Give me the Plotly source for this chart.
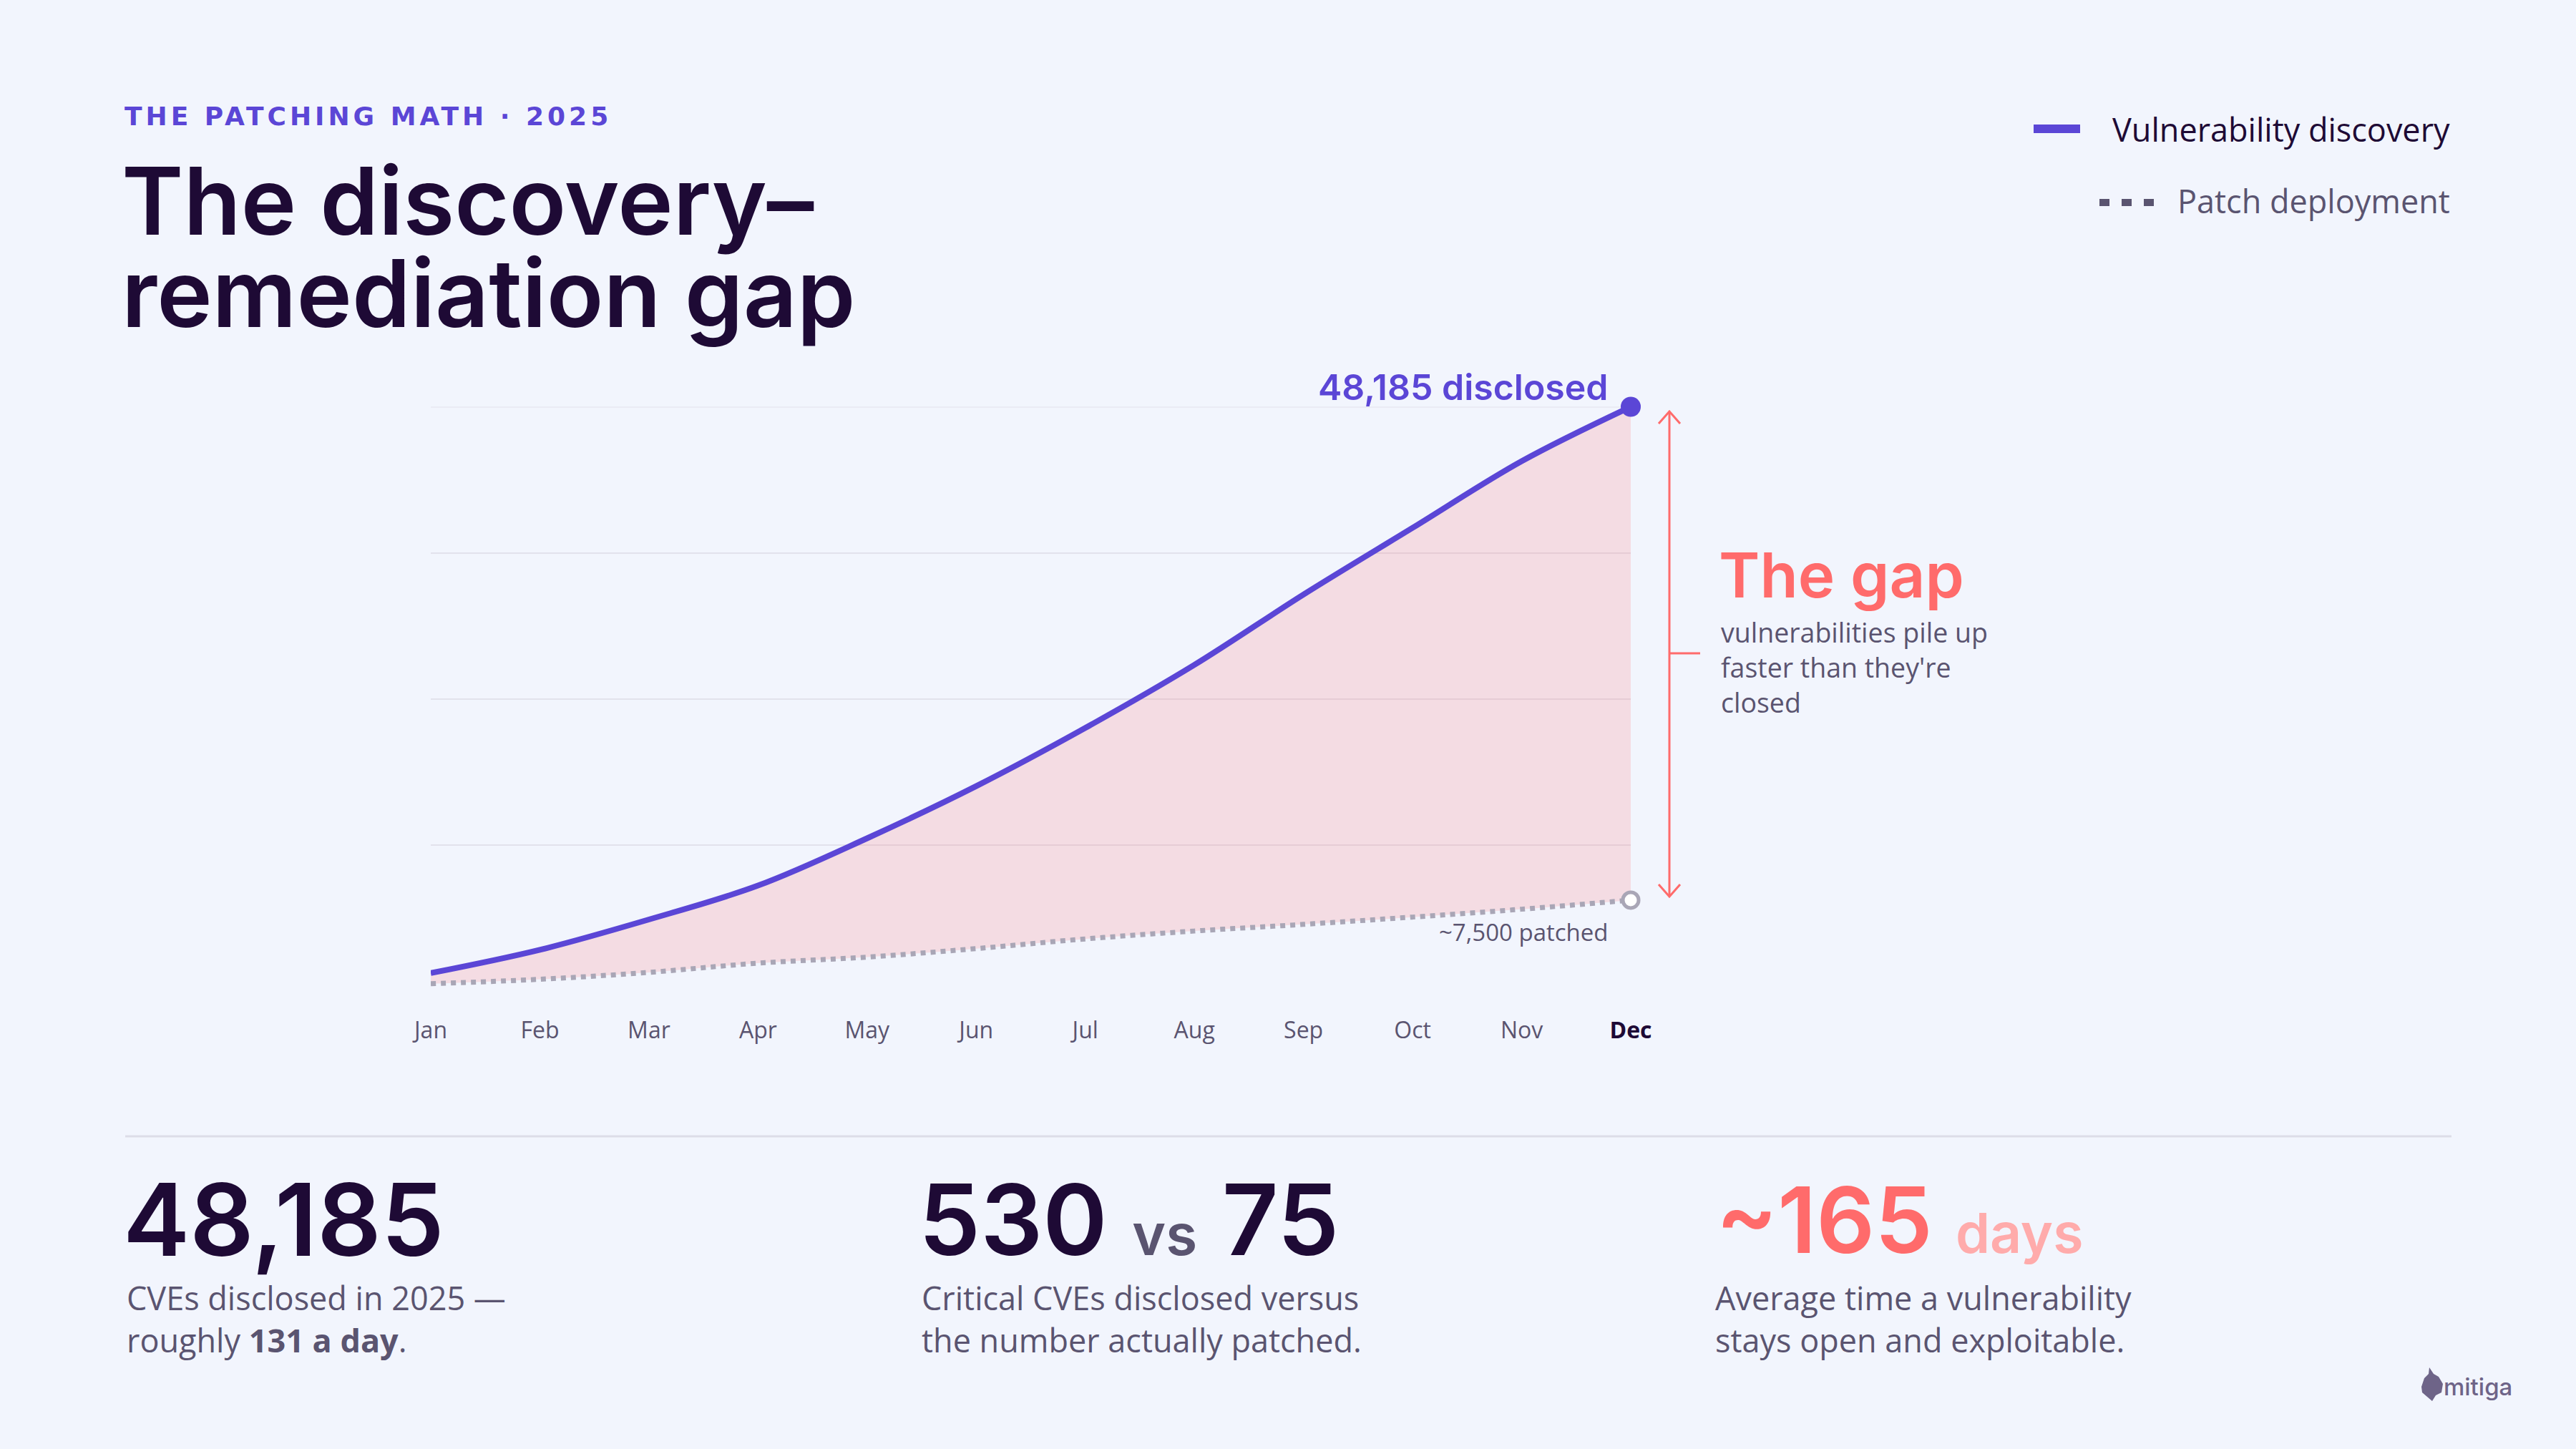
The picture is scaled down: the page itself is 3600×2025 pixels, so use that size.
import plotly.graph_objects as go

W, H = 3600, 2025

# ---------------- data ----------------
months = ["Jan", "Feb", "Mar", "Apr", "May", "Jun", "Jul", "Aug", "Sep", "Oct", "Nov", "Dec"]
discovered = [1480, 3400, 5900, 8700, 12600, 16900, 21700, 26900, 32700, 38200, 43700, 48185]
patched = [600, 970, 1540, 2300, 2800, 3500, 4300, 4950, 5500, 6100, 6750, 7500]
y_max = 48185
grid_vals = [0, y_max * 0.25, y_max * 0.5, y_max * 0.75]
month_labels = months[:-1] + ['<b><span style="color:#1E0A35">Dec</span></b>']

BG = "#F2F5FD"
PURPLE = "#5B46D6"
DARK = "#1E0A35"
GRAY = "#5A5470"
CORAL = "#FF6B6B"
DOTGRAY = "#A9A6B6"
GRID = "#E2E2EC"

TITLE_FONT = "Inter"
BODY_FONT = "Open Sans"


def px(x):
    return x / W


def py(y):
    return 1 - y / H


xs = list(range(len(months)))

fig = go.Figure()

# fill between patched and discovered
fig.add_trace(go.Scatter(x=xs, y=patched, mode="lines", line=dict(width=0, shape="spline"),
                         hoverinfo="skip", showlegend=False))
fig.add_trace(go.Scatter(x=xs, y=discovered, mode="lines", line=dict(width=0, shape="spline"),
                         fill="tonexty", fillcolor="rgba(255,90,90,0.155)",
                         hoverinfo="skip", showlegend=False))
# patched dotted line
fig.add_trace(go.Scatter(x=xs, y=patched, mode="lines",
                         line=dict(color=DOTGRAY, width=7, dash="dot", shape="spline"),
                         showlegend=False, cliponaxis=False))
# discovery line
fig.add_trace(go.Scatter(x=xs, y=discovered, mode="lines",
                         line=dict(color=PURPLE, width=8, shape="spline"),
                         showlegend=False, cliponaxis=False))
# end markers
fig.add_trace(go.Scatter(x=[xs[-1]], y=[patched[-1]], mode="markers",
                         marker=dict(size=22, color="white", line=dict(color=DOTGRAY, width=5)),
                         showlegend=False, cliponaxis=False))
fig.add_trace(go.Scatter(x=[xs[-1]], y=[discovered[-1]], mode="markers",
                         marker=dict(size=28, color=PURPLE),
                         showlegend=False, cliponaxis=False))

x0, x1 = 602, 2279
ytop, ybot = 568.5, 1385

fig.update_layout(
    width=W, height=H,
    margin=dict(l=0, r=0, t=0, b=0, pad=0),
    paper_bgcolor=BG, plot_bgcolor=BG,
    showlegend=False,
    xaxis=dict(domain=[px(x0), px(x1)], range=[0, 11], tickvals=xs, ticktext=month_labels,
               showgrid=False, zeroline=False, showline=False, ticks="", automargin=False,
               tickfont=dict(family=BODY_FONT, size=32, color=GRAY), ticklabelstandoff=33),
    yaxis=dict(domain=[py(ybot), py(ytop)], range=[0, y_max], tickvals=grid_vals,
               showticklabels=False, showgrid=True, gridcolor=GRID, gridwidth=2,
               zeroline=False, showline=False, ticks="", automargin=False),
)

ann = []


def text(x, y, t, size, color, family=BODY_FONT, weight=400, xanchor="left", yanchor="middle"):
    ann.append(dict(x=px(x), y=py(y), xref="paper", yref="paper", text=t, showarrow=False,
                    xanchor=xanchor, yanchor=yanchor, align=xanchor if xanchor != "center" else "center",
                    font=dict(family=family, size=size, color=color, weight=weight)))


# header
text(172, 163, '<span style="letter-spacing:5px">THE PATCHING MATH · 2025</span>', 36, PURPLE,
     family="DejaVu Sans", weight=700)
text(168, 345, '<span style="font-size:131px">The discovery–</span><br>'
               '<span style="font-size:131px">remediation gap</span>', 99, DARK,
     family=TITLE_FONT, weight=600)

# legend
text(3426, 180, "Vulnerability discovery", 45, DARK, xanchor="right")
text(3426, 280, "Patch deployment", 45, GRAY, xanchor="right")

# chart annotations
text(2250, 541, "48,185 disclosed", 50, PURPLE, family=TITLE_FONT, weight=600, xanchor="right")
text(2250, 1302, "~7,500 patched", 33, GRAY, xanchor="right")

# gap annotation
text(2400, 803, "The gap", 87, CORAL, family=TITLE_FONT, weight=600)
text(2403, 932, "vulnerabilities pile up<br>faster than they're<br>closed", 37.5, GRAY)

# bottom stats
text(170, 1704, "48,185", 140, DARK, family=TITLE_FONT, weight=600)
text(175, 1843, "CVEs disclosed in 2025 —<br>roughly <b>131 a day</b>.", 45, GRAY)

text(1282, 1704, '530 <span style="font-size:80px;color:#5A5470">vs</span> 75', 137, DARK,
     family=TITLE_FONT, weight=600)
text(1286, 1843, "Critical CVEs disclosed versus<br>the number actually patched.", 45, GRAY)

text(2396, 1704, '~165 <span style="font-size:77px;color:#FFABAB">days</span>', 128, CORAL,
     family=TITLE_FONT, weight=600)
text(2395, 1843, "Average time a vulnerability<br>stays open and exploitable.", 45, GRAY)

# logo
text(3513, 1938, "mitiga", 33, "#6E6488", family=TITLE_FONT, weight=500, xanchor="right")

fig.update_layout(annotations=ann)

shapes = []


def seg(xa, ya, xb, yb, color, width, dash="solid"):
    shapes.append(dict(type="line", xref="paper", yref="paper", x0=px(xa), y0=py(ya), x1=px(xb), y1=py(yb),
                       line=dict(color=color, width=width, dash=dash)))


# top gridline at the max value
shapes.append(dict(type="line", xref="x", yref="y", x0=0, x1=11, y0=y_max, y1=y_max,
                   line=dict(color=GRID, width=2), layer="below"))

# legend swatches
seg(2842, 180, 2907, 180, PURPLE, 12)
seg(2934, 283, 3010, 283, GRAY, 10, dash="14px,17px")

# gap arrow
ax = 2333
seg(ax, 575, ax, 1253, CORAL, 3)
shapes.append(dict(type="path", xref="paper", yref="paper",
                   path=f"M {px(ax-15)} {py(592)} L {px(ax)} {py(575)} L {px(ax+15)} {py(592)}",
                   line=dict(color=CORAL, width=3)))
shapes.append(dict(type="path", xref="paper", yref="paper",
                   path=f"M {px(ax-15)} {py(1236)} L {px(ax)} {py(1253)} L {px(ax+15)} {py(1236)}",
                   line=dict(color=CORAL, width=3)))
seg(ax, 913, 2376, 913, CORAL, 3)

# separator
seg(175, 1588, 3426, 1588, "#DDDDE8", 3)

# logo mark (simple lynx-head silhouette)
pts = [(3384, 1938), (3388, 1926), (3394, 1920), (3395, 1911), (3401, 1920), (3408, 1924),
       (3414, 1934), (3412, 1946), (3404, 1950), (3399, 1958), (3392, 1952), (3385, 1946)]
path = "M " + " L ".join(f"{px(a)} {py(b)}" for a, b in pts) + " Z"
shapes.append(dict(type="path", xref="paper", yref="paper", path=path,
                   fillcolor="#6E6488", line=dict(width=0)))

fig.update_layout(shapes=shapes)

fig.write_html("out.html")
